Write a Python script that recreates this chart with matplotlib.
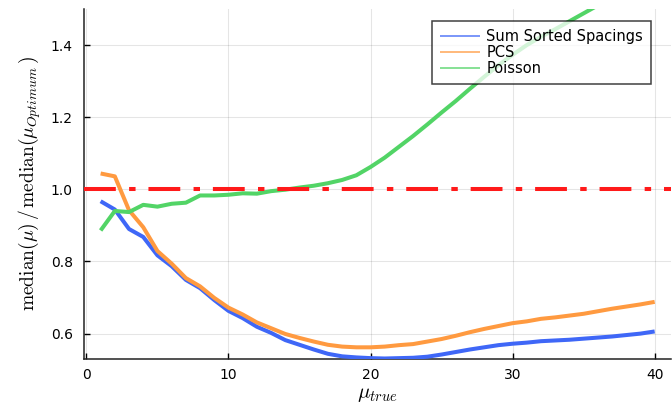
import matplotlib
matplotlib.use("Agg")
import matplotlib.pyplot as plt
import numpy as np

plt.rcParams['font.family'] = ['DejaVu Sans']
plt.rcParams['mathtext.fontset'] = 'cm'

mu_true = list(range(1, 41))

sum_sorted_spacings = [
    0.967, 0.944, 0.890, 0.868, 0.817, 0.787, 0.749, 0.726, 0.693, 0.663,
    0.643, 0.619, 0.602, 0.582, 0.569, 0.556, 0.544, 0.537, 0.534, 0.532,
    0.531, 0.532, 0.533, 0.536, 0.542, 0.549, 0.556, 0.562, 0.568, 0.572,
    0.575, 0.579, 0.581, 0.583, 0.586, 0.589, 0.592, 0.596, 0.600, 0.606,
]
pcs = [
    1.044, 1.036, 0.942, 0.895, 0.829, 0.794, 0.754, 0.731, 0.699, 0.672,
    0.653, 0.631, 0.615, 0.599, 0.588, 0.578, 0.569, 0.564, 0.562, 0.562,
    0.564, 0.568, 0.571, 0.578, 0.585, 0.594, 0.604, 0.613, 0.621, 0.629,
    0.634, 0.641, 0.645, 0.650, 0.655, 0.662, 0.669, 0.675, 0.681, 0.688,
]
poisson = [
    0.886, 0.940, 0.937, 0.957, 0.952, 0.960, 0.963, 0.983, 0.983, 0.985,
    0.989, 0.988, 0.995, 0.999, 1.005, 1.010, 1.017, 1.026, 1.039, 1.062,
    1.088, 1.118, 1.148, 1.180, 1.213, 1.245, 1.279, 1.312, 1.344, 1.373,
    1.400, 1.423, 1.444, 1.466, 1.488, 1.510, 1.531, 1.552, 1.573, 1.594,
]
reference_level = 1.0

series_labels = ["Sum Sorted Spacings", "PCS", "Poisson"]
series_colors = ["#3f67f7", "#ff9a40", "#52d466"]

xticks = [0, 10, 20, 30, 40]
yticks = [0.6, 0.8, 1.0, 1.2, 1.4]

fig = plt.figure(figsize=(6.72, 4.07), dpi=100)
ax = fig.add_axes([84 / 672, 1 - 358.5 / 407, (671.3 - 84) / 672, (358.5 - 9) / 407])

lw = 2.9
for ys, lab, col in zip([sum_sorted_spacings, pcs, poisson], series_labels, series_colors):
    ax.plot(mu_true, ys, color=col, lw=lw, label=lab, solid_capstyle="butt", zorder=3)

hl = ax.axhline(reference_level, color="#ff1a1a", lw=lw, zorder=4)
hl.set_dashes((7.9, 3.3, 1.6, 3.2))
hl.set_dash_capstyle("butt")

span = mu_true[-1] - mu_true[0]
ax.set_xlim(mu_true[0] - 0.03 * span, mu_true[-1] + 0.03 * span)
ax.set_ylim(min(sum_sorted_spacings), 1.5)

ax.set_xticks(xticks)
ax.set_yticks(yticks)
ax.set_yticklabels([f"{v:.1f}" for v in yticks])
ax.tick_params(direction="in", length=4, width=1, labelsize=10, colors="black")
ax.tick_params(axis="y", pad=8)
ax.tick_params(axis="x", pad=7)

ax.grid(True, color="black", alpha=0.1, lw=0.8)
ax.set_axisbelow(True)
for s in ["top", "right"]:
    ax.spines[s].set_visible(False)
for s in ["left", "bottom"]:
    ax.spines[s].set_linewidth(1.1)
    ax.spines[s].set_color("#222222")

ax.set_xlabel(r"$\mu_{true}$", fontsize=15, labelpad=1)
ax.set_ylabel(r"$\mathrm{median}(\mu)\,/\,\mathrm{median}(\mu_{Optimum}\,)$", fontsize=14, labelpad=6)

leg = ax.legend(loc="upper right", bbox_to_anchor=(0.9654, 0.9657), fontsize=10.5,
                frameon=True, fancybox=False, framealpha=0.75, edgecolor="black",
                handlelength=2.7, handletextpad=0.45, labelspacing=0.075,
                borderpad=0.55, borderaxespad=0.0)
leg.get_frame().set_linewidth(1.1)
for h in leg.get_lines():
    h.set_linewidth(1.3)
    h.set_alpha(0.75)

fig.savefig("out.png", dpi=100)
